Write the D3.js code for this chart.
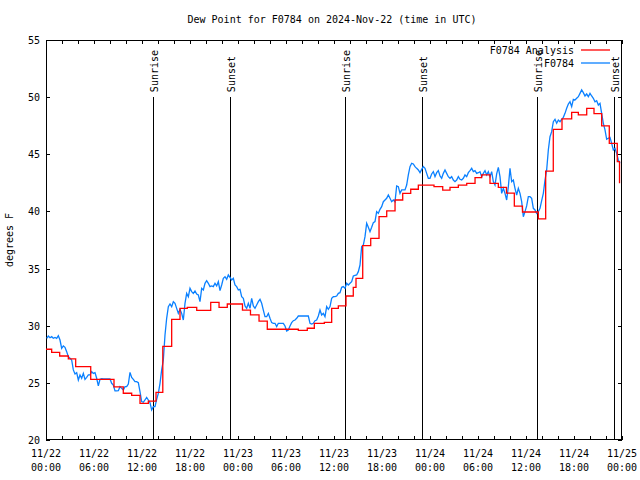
<!DOCTYPE html>
<html><head><meta charset="utf-8">
<script src="https://cdn.jsdelivr.net/npm/d3@7"></script>
<style>
html,body{margin:0;padding:0;background:#fff;}
svg{display:block;}
text{font-family:"DejaVu Sans Mono",monospace;font-size:10px;fill:#000;}
</style></head><body>
<svg id="chart" width="640" height="480"></svg>
<script>
const titleText = "Dew Point for F0784 on 2024-Nov-22 (time in UTC)";
const yLabel = "degrees F";
const seriesNames = ["F0784 Analysis", "F0784"];
const seriesColors = ["#ff0000", "#0a80ff"];
const startDate = "2024-11-22T00:00:00Z";
const endDate = "2024-11-25T00:00:00Z";
const yTicks = [20, 25, 30, 35, 40, 45, 50, 55];
const sunLabels = ["Sunrise", "Sunset", "Sunrise", "Sunset", "Sunrise", "Sunset"];
const sunHours = [13.42, 23.04, 37.42, 47.04, 61.42, 71.04];

// Analysis (hours after 11/22 00:00 UTC at which each value starts)
const analysisHours = [0, 0.71, 1.71, 2.79, 3.71, 5.59, 8.5, 9.66, 10.71, 11.75, 12.79, 13.75, 14.6,
  15.71, 16.75, 17.66, 18.84, 20.59, 21.63, 22.66, 24.56, 25.56, 26.63, 27.66, 31.54, 32.66, 33.54,
  34.79, 35.71, 36.54, 37.5, 38.41, 38.75, 39.59, 40.59, 41.63, 42.59, 43.63, 44.59, 45.59, 46.54,
  48.5, 49.59, 50.5, 51.54, 52.59, 53.63, 54.46, 55.5, 56.54, 57.56, 58.54, 59.56, 61.54, 62.46,
  63.41, 64.5, 65.71, 66.54, 67.59, 68.5, 69.46, 70.41, 71.41, 71.69];
const analysisDew = [27.94, 27.67, 27.35, 27.10, 26.42, 25.30, 24.64, 24.09, 23.91, 23.20, 23.40, 24.17, 28.20,
  30.56, 31.52, 31.60, 31.35, 32.05, 31.60, 31.90, 31.37, 30.94, 30.41, 29.69, 29.60, 29.78, 30.20,
  30.30, 31.52, 31.73, 32.60, 33.36, 34.15, 37.00, 37.65, 39.54, 40.04, 41.00, 41.58, 41.94, 42.31,
  42.17, 41.87, 42.10, 42.31, 42.46, 42.96, 43.19, 42.46, 42.10, 41.60, 40.47, 39.95, 39.34, 43.53,
  47.18, 48.10, 48.67, 48.44, 49.02, 48.56, 47.48, 45.96, 44.36, 42.46];

// Station observations: first at 00:05 UTC, then every 12.5 minutes
const obsStartMinutes = 5;
const obsStepMinutes = 12.5;
const obsDew = [
  28.90, 29.10, 28.95, 29.04, 28.90, 28.98, 28.90, 29.13, 28.75, 28.02,
  28.23, 28.11, 27.73, 27.29, 27.15, 27.00, 26.13, 25.78, 25.89, 25.25,
  25.69, 25.40, 25.83, 25.31, 25.48, 25.69, 25.69, 25.98, 25.83, 25.89,
  25.40, 24.73, 25.31, 25.37, 25.34, 25.34, 25.34, 25.34, 25.34, 24.96,
  24.81, 24.29, 24.29, 24.32, 24.67, 24.52, 24.38, 24.67, 24.67, 24.90,
  25.92, 25.48, 25.31, 25.11, 25.11, 25.02, 24.23, 23.36, 23.30, 23.50,
  23.73, 23.50, 23.27, 22.63, 22.92, 22.92, 23.56, 24.08, 24.96, 26.13,
  27.00, 29.19, 30.65, 31.67, 31.90, 31.67, 32.10, 31.96, 31.52, 31.08,
  31.43, 31.08, 30.50, 31.96, 32.83, 32.54, 33.27, 32.98, 32.83, 33.04,
  32.78, 32.69, 32.10, 33.27, 33.13, 33.71, 33.94, 33.71, 33.42, 33.48,
  33.42, 33.71, 33.48, 33.85, 33.07, 33.56, 34.15, 34.29, 34.06, 34.44,
  34.23, 34.00, 34.15, 33.56, 33.42, 33.13, 33.18,
  32.54, 32.40, 31.73, 31.52, 31.96, 31.52, 32.40, 31.73, 31.52, 31.81,
  32.11, 32.31, 31.96, 31.37, 30.79, 30.79, 31.08, 30.65, 30.27, 30.21,
  30.21, 29.92, 30.21, 30.21, 30.21, 30.21, 29.98, 29.54, 29.63, 29.98,
  30.27, 30.44, 30.50, 30.65, 30.85, 30.85, 30.85, 30.85, 30.85, 30.85,
  30.85, 30.21, 30.15, 30.21, 30.44, 30.50, 30.85, 31.37, 30.94, 31.08,
  30.79, 31.67, 31.43, 31.67, 32.40, 32.54, 32.54, 32.60, 32.83, 32.89,
  33.36, 33.42, 33.27, 33.71, 33.56, 33.71, 33.86, 34.35, 34.41, 34.44,
  34.73, 35.31, 36.92, 37.06, 37.79, 38.96, 38.61, 38.23, 38.61, 39.02,
  39.11, 39.98, 39.83, 40.18, 40.42, 40.85, 41.00, 41.15, 41.44, 41.15,
  40.85, 41.00, 40.85, 42.23, 42.17, 41.58, 41.88, 41.88, 41.88, 42.31,
  43.19, 43.92, 44.21, 44.15, 43.92, 43.77, 43.63, 43.39, 43.68, 43.92,
  43.77, 43.33, 42.90,
  42.90, 43.28, 43.48, 43.04, 43.39, 43.57, 43.10, 42.90, 43.33, 43.63,
  43.33, 43.04, 42.90, 43.04, 42.75, 42.61, 42.75, 43.04, 42.81, 42.75,
  42.90, 43.19, 43.04, 43.39, 43.57, 43.77, 43.48, 43.57, 43.33, 43.39,
  43.48, 43.04, 43.33, 43.57, 43.19, 43.48, 43.04, 43.48, 42.61, 42.31,
  43.28, 43.86, 43.04, 41.58, 42.02, 41.58, 41.00, 42.17, 43.77, 42.61,
  42.75, 42.02, 41.44, 42.02, 41.58, 40.86, 39.54, 39.98, 40.48, 41.29,
  41.29, 41.15, 40.27, 40.13, 39.83, 39.98, 40.27, 40.94, 41.58, 42.75,
  43.63, 45.38, 46.54, 46.98, 47.85, 48.06, 47.71, 48.00, 47.85, 48.06,
  48.23, 48.58, 49.02, 49.40, 49.60, 49.17, 49.81, 49.75, 49.90, 50.04,
  50.33, 50.63, 50.39, 50.10, 50.28, 50.04, 50.33, 50.10, 49.90, 49.60,
  49.69, 49.31, 49.46, 48.58, 47.71, 47.13, 46.31, 46.40, 46.48, 45.96,
  45.38, 45.52, 45.08, 44.50, 44.21
];

const W = 640, H = 480;
const margin = {left: 46, right: 18, top: 40, bottom: 40};
const svg = d3.select("#chart");
const t0 = new Date(startDate), t1 = new Date(endDate);
const hourToDate = h => new Date(t0.getTime() + h * 3600000);

const x = d3.scaleUtc().domain([t0, t1]).range([margin.left, W - margin.right]);
const y = d3.scaleLinear().domain([20, 55]).range([H - margin.bottom, margin.top]);

svg.append("defs").append("clipPath").attr("id", "plotclip")
  .append("rect").attr("x", margin.left).attr("y", margin.top)
  .attr("width", W - margin.left - margin.right).attr("height", H - margin.top - margin.bottom);

// Title
svg.append("text").attr("x", 332).attr("y", 23).attr("text-anchor", "middle").text(titleText);

// Y label
svg.append("text").attr("transform", "translate(13,240) rotate(-90)")
  .attr("text-anchor", "middle").text(yLabel);

// Axes (inward ticks)
const every2h = x.ticks(d3.utcHour.every(2));
const every6h = x.ticks(d3.utcHour.every(6));
const gB = svg.append("g").attr("transform", `translate(0,${H - margin.bottom})`)
  .call(d3.axisBottom(x).tickValues(every2h).tickSize(-4).tickFormat(""));
const gT = svg.append("g").attr("transform", `translate(0,${margin.top})`)
  .call(d3.axisTop(x).tickValues(every2h).tickSize(-4).tickFormat(""));
const gL = svg.append("g").attr("transform", `translate(${margin.left},0)`)
  .call(d3.axisLeft(y).tickValues(yTicks).tickSize(-4).tickPadding(6).tickFormat(d3.format("d")));
const gR = svg.append("g").attr("transform", `translate(${W - margin.right},0)`)
  .call(d3.axisRight(y).tickValues(yTicks).tickSize(-4).tickFormat(""));
[gB, gT, gL, gR].forEach(g => {
  g.select(".domain").remove();
  g.selectAll("line").attr("stroke", "#000").attr("shape-rendering", "crispEdges");
  g.selectAll("text").attr("font-family", "DejaVu Sans Mono").attr("font-size", 10).attr("fill", "#000");
});
gL.selectAll("text").attr("dy", "0.35em");

// X labels (two lines)
const fmtDay = d3.utcFormat("%m/%d"), fmtTime = d3.utcFormat("%H:%M");
const xl = svg.append("g");
every6h.forEach(d => {
  const t = xl.append("text").attr("text-anchor", "middle");
  t.append("tspan").attr("x", x(d)).attr("y", 457).text(fmtDay(d));
  t.append("tspan").attr("x", x(d)).attr("y", 471).text(fmtTime(d));
});

// Frame
svg.append("rect").attr("x", margin.left + 0.5).attr("y", margin.top + 0.5)
  .attr("width", W - margin.left - margin.right - 1).attr("height", H - margin.top - margin.bottom - 1)
  .attr("fill", "none").attr("stroke", "#000").attr("shape-rendering", "crispEdges");

// Sunrise / sunset markers
const sunG = svg.append("g");
sunHours.forEach((h, i) => {
  const px = Math.round(x(hourToDate(h))) + 0.5;
  sunG.append("line").attr("x1", px).attr("x2", px).attr("y1", y(50)).attr("y2", y(20))
    .attr("stroke", "#000").attr("stroke-width", 1).attr("shape-rendering", "crispEdges");
  sunG.append("text").attr("transform", `translate(${px + 4},${y(50) - 5}) rotate(-90)`)
    .attr("text-anchor", "start").text(sunLabels[i]);
});

// Series
const plot = svg.append("g").attr("clip-path", "url(#plotclip)");
const analysisData = analysisHours.map((h, i) => ({t: hourToDate(h), v: analysisDew[i]}));
const obsData = obsDew.map((v, i) => ({t: new Date(t0.getTime() + (obsStartMinutes + i * obsStepMinutes) * 60000), v}));

plot.append("path").datum(obsData)
  .attr("fill", "none").attr("stroke", seriesColors[1]).attr("stroke-width", 1.3)
  .attr("d", d3.line().x(d => x(d.t)).y(d => y(d.v)));
plot.append("path").datum(analysisData)
  .attr("fill", "none").attr("stroke", seriesColors[0]).attr("stroke-width", 1.3)
  .attr("d", d3.line().curve(d3.curveStepAfter).x(d => x(d.t)).y(d => y(d.v)));

// Legend
const legend = svg.append("g");
seriesNames.forEach((name, i) => {
  const ly = 50 + i * 13;
  legend.append("text").attr("x", 574).attr("y", ly + 3.5).attr("text-anchor", "end").text(name);
  legend.append("line").attr("x1", 581).attr("x2", 610).attr("y1", ly).attr("y2", ly)
    .attr("stroke", seriesColors[i]).attr("stroke-width", 1.3);
});
</script>
</body></html>
